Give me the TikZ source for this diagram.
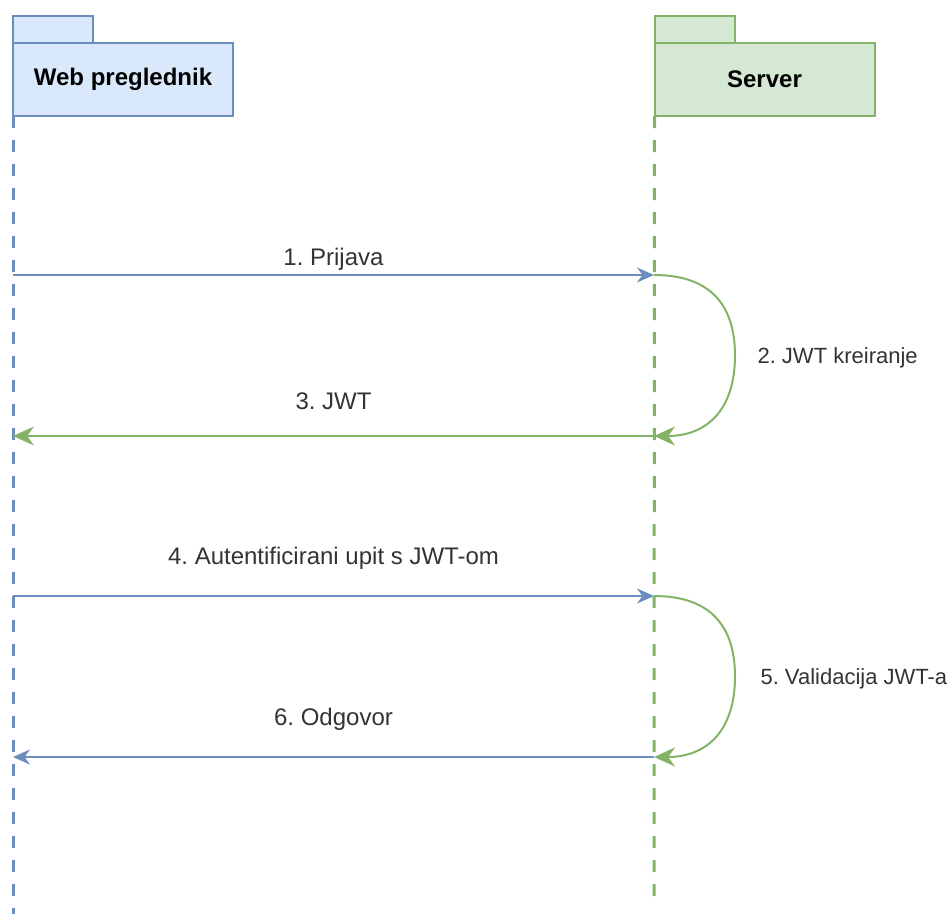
\documentclass[tikz,border=0pt]{standalone}
\usepackage{fontspec}
\setmainfont{Liberation Sans}
\usetikzlibrary{arrows.meta}
\definecolor{blueline}{HTML}{6C8EBF}
\definecolor{bluefill}{HTML}{DAE8FC}
\definecolor{greenline}{HTML}{82B366}
\definecolor{greenfill}{HTML}{D5E8D4}
\frenchspacing

\begin{document}
\begin{tikzpicture}
    [x=1pt,y=-1pt,
     actor/.style={draw,line width=2pt,outer sep=0pt,minimum width=220pt,minimum height=73pt,
       font=\fontsize{24}{28}\selectfont\bfseries},
     tab/.style={line width=2pt},
     lifeline/.style={line width=3pt,dash pattern=on 12pt off 12pt},
     msg/.style={line width=2pt,-{Stealth[length=17pt,width=15pt]}},
     reply/.style={line width=2pt,-{Stealth[length=21pt,width=19pt]}},
     lbl/.style={font=\fontsize{24}{28}\selectfont,text=black!80,above=0pt},
     highlbl/.style={lbl,above=22pt},
     selflbl/.style={font=\fontsize{22}{26}\selectfont,text=black!80,anchor=west}]
    \useasboundingbox (0,0) rectangle (951,914);
    \node[actor,draw=blueline,fill=bluefill] (WEB) at (123,79.5) {Web preglednik};
    \node[actor,draw=greenline,fill=greenfill] (SRV) at (764.5,79.5) {Server};
    \draw[tab,draw=blueline,fill=bluefill] (WEB.north west) rectangle ++(80,-27);
    \draw[tab,draw=greenline,fill=greenfill] (SRV.north west) rectangle ++(80,-27);
    \coordinate (WEBend) at (13,914);
    \coordinate (SRVend) at (654,899);
    \draw[lifeline,blueline] (WEB.south west) -- (WEBend);
    \draw[lifeline,greenline] (SRV.south west) -- (SRVend);
    \coordinate (WEB1) at (13,275);
    \coordinate (SRV1) at (654,275);
    \coordinate (WEB3) at (13,436);
    \coordinate (SRV3) at (654,436);
    \coordinate (WEB4) at (13,596);
    \coordinate (SRV4) at (654,596);
    \coordinate (WEB6) at (13,757);
    \coordinate (SRV6) at (654,757);
    \coordinate (LOOP2) at (735,355.5);
    \coordinate (LOOP5) at (735,676.5);
    \draw[msg,blueline] (WEB1) -- node[lbl] (MSG1) {1. Prijava} (SRV1);
    \draw[reply,greenline] (SRV1) to[out=0,in=90,looseness=1.2] (LOOP2) to[out=-90,in=0,looseness=1.2] (SRV3);
    \draw[reply,greenline] (SRV3) -- node[highlbl] (MSG3) {3. JWT} (WEB3);
    \draw[msg,blueline] (WEB4) -- node[highlbl] (MSG4) {4. Autentificirani upit s JWT-om} (SRV4);
    \draw[reply,greenline] (SRV4) to[out=0,in=90,looseness=1.2] (LOOP5) to[out=-90,in=0,looseness=1.2] (SRV6);
    \draw[msg,blueline] (SRV6) -- node[highlbl] (MSG6) {6. Odgovor} (WEB6);
    \node[selflbl] (MSG2) at (754,358) {2. JWT kreiranje};
    \node[selflbl] (MSG5) at (757,679) {5. Validacija JWT-a};
\end{tikzpicture}
\end{document}
